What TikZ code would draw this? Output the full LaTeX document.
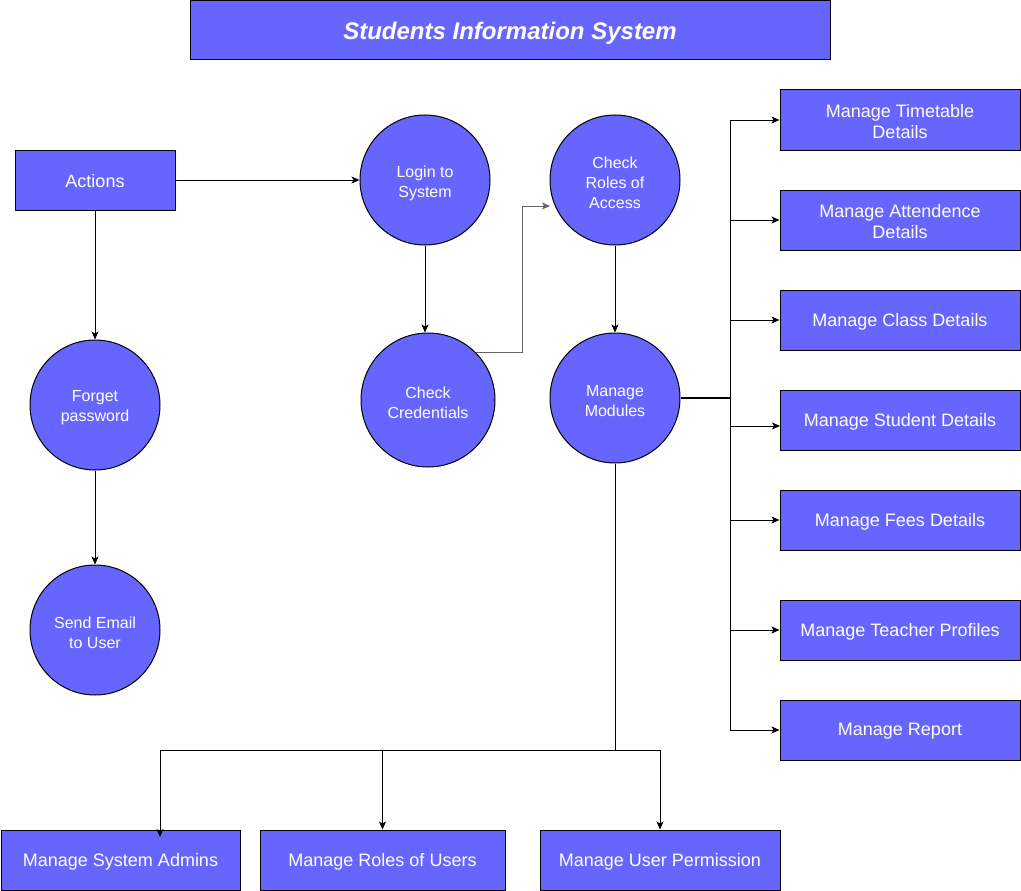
\documentclass[tikz,border=0pt]{standalone}
\usepackage{fontspec}
\setmainfont{Liberation Sans}
\usetikzlibrary{arrows.meta,calc}
\definecolor{fillc}{HTML}{6666FF}
\begin{document}
\begin{tikzpicture}[x=1pt,y=-1pt,
 box/.style={draw=black,line width=1pt,fill=fillc,minimum width=240pt,minimum height=60pt,inner sep=0pt},
 circ/.style={circle,draw=black,line width=1pt,fill=fillc,minimum size=130pt,inner sep=0pt},
 blab/.style={text=white,align=center,inner sep=0pt,yshift=-1.5pt,font=\fontsize{18}{21.5}\selectfont},
 clab/.style={text=white,align=center,inner sep=0pt,yshift=-3pt,font=\fontsize{16}{20}\selectfont},
 tlab/.style={text=white,align=center,inner sep=0pt,yshift=-2.5pt,font=\fontsize{24}{28}\selectfont\bfseries\itshape},
 arr/.style={-{Stealth[length=8pt,width=7pt,inset=2pt]},line width=0.9pt},
 ln/.style={line width=0.9pt}]
\useasboundingbox (0,0) rectangle (1021,891);
% title
\node[box,minimum width=640pt,minimum height=59pt,label={[tlab]center:Students Information System}] (title) at (510,30.5) {};
% left
\node[box,minimum width=160pt,label={[blab]center:Actions}] (actions) at (95,180) {};
\node[circ,label={[clab]center:{Forget\\password}}] (forget) at (95,405) {};
\node[circ,label={[clab]center:{Send Email\\to User}}] (email) at (95,630) {};
% middle circles
\node[circ,label={[clab]center:{Login to\\System}}] (login) at (425,180) {};
\node[circ,minimum size=134pt,label={[clab]center:{Check\\Credentials}}] (cred) at (428,400) {};
\node[circ,label={[clab]center:{Check\\Roles of\\Access}}] (roles) at (615,180) {};
\node[circ,label={[clab]center:{Manage\\Modules}}] (modules) at (615,398) {};
% right boxes
\node[box,label={[blab]center:{Manage Timetable\\Details}}] (tt) at (900,120) {};
\node[box,label={[blab]center:{Manage Attendence\\Details}}] (att) at (900,220) {};
\node[box,label={[blab]center:Manage Class Details}] (cls) at (900,320) {};
\node[box,label={[blab]center:Manage Student Details}] (stu) at (900,420) {};
\node[box,label={[blab]center:Manage Fees Details}] (fee) at (900,520) {};
\node[box,label={[blab]center:Manage Teacher Profiles}] (tea) at (900,630) {};
\node[box,label={[blab]center:Manage Report}] (rep) at (900,730) {};
% bottom boxes
\node[box,minimum width=239pt,label={[blab]center:Manage System Admins}] (adm) at (120.5,860) {};
\node[box,minimum width=245pt,label={[blab]center:Manage Roles of Users}] (rou) at (382.5,860) {};
\node[box,label={[blab]center:Manage User Permission}] (perm) at (660,860) {};
% coordinates
\coordinate (bend) at (522,206);
\coordinate (rolesin) at (550,206);
\coordinate (bus) at (730,398);
\coordinate (bustop) at (730,120);
\coordinate (busbot) at (730,730);
\coordinate (stuin) at (780,426);
\coordinate (hb) at (615,750);
\coordinate (hl) at (160,750);
\coordinate (hr) at (660,750);
\coordinate (admin) at (160,837);
% connectors
\draw[arr] (actions.east) -- (login.west);
\draw[arr] (actions.south) -- (forget.north);
\draw[arr] (forget.south) -- (email.north);
\draw[arr] (login.south) -- (login.south |- cred.north);
\draw[arr,draw=black!60] (cred.45) -| (bend) -- (rolesin);
\draw[arr] (roles.south) -- (modules.north);
\draw[line width=2pt] (modules.east) -- (bus);
\draw[ln] (bustop) -- (busbot);
\draw[arr] (bustop) -- (tt.west);
\draw[arr] (bus |- att.west) -- (att.west);
\draw[arr] (bus |- cls.west) -- (cls.west);
\draw[arr] (bus |- stuin) -- (stuin);
\draw[arr] (bus |- fee.west) -- (fee.west);
\draw[arr] (bus |- tea.west) -- (tea.west);
\draw[arr] (busbot) -- (rep.west);
\draw[ln] (modules.south) -- (hb);
\draw[ln] (hl) -- (hr);
\draw[arr] (hl) -- (admin);
\draw[arr] (rou.north |- hl) -- (rou.north);
\draw[arr] (hr) -- (perm.north);
\end{tikzpicture}
\end{document}
